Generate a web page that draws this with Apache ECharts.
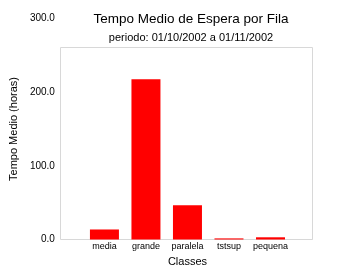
<!DOCTYPE html>
<html>
<head>
<meta charset="utf-8">
<script src="https://cdn.jsdelivr.net/npm/echarts@6/dist/echarts.min.js"></script>
<style>html,body{margin:0;padding:0;background:#fff;}#c{width:362px;height:280px;}</style>
</head>
<body>
<div id="c"></div>
<script>
const titleText = 'Tempo Medio de Espera por Fila';
const subtitleText = 'periodo: 01/10/2002 a 01/11/2002';
const categories = ['', 'media', 'grande', 'paralela', 'tstsup', 'pequena', ''];
const values = ['-', 13.6, 217.5, 46.5, 1.5, 3.0, '-'];
const yTicks = [0, 100, 200, 300];
const yName = 'Tempo Medio (horas)';
const xName = 'Classes';

const chart = echarts.init(document.getElementById('c'), null, {renderer: 'canvas'});
const font = 'Liberation Sans, Arial, sans-serif';
chart.setOption({
  animation: false,
  backgroundColor: '#fff',
  title: [
    {text: titleText, left: 186, top: 7, textAlign: 'center',
     textStyle: {fontFamily: font, fontSize: 13.5, fontWeight: 'normal', color: '#000'}},
    {text: subtitleText, left: 186, top: 27, textAlign: 'center',
     textStyle: {fontFamily: font, fontSize: 11, fontWeight: 'normal', color: '#000'}}
  ],
  grid: {left: 60, right: 50, top: 18.5, bottom: 40.5, containLabel: false},
  xAxis: {
    type: 'category', data: categories, boundaryGap: false,
    axisLine: {show: true, lineStyle: {color: '#d8d8d8'}},
    axisTick: {show: false},
    axisLabel: {fontFamily: font, fontSize: 9, color: '#000', margin: 3, interval: 0},
    name: xName, nameLocation: 'middle', nameGap: 13,
    nameTextStyle: {fontFamily: font, fontSize: 11, color: '#000'}
  },
  yAxis: {
    type: 'value', min: yTicks[0], max: yTicks[yTicks.length - 1], interval: 100,
    axisLine: {show: false}, axisTick: {show: false}, splitLine: {show: false},
    axisLabel: {fontFamily: font, fontSize: 10, color: '#000', margin: 8,
      formatter: v => v.toFixed(1)},
    name: yName, nameLocation: 'middle', nameGap: 42, nameRotate: 90,
    nameTextStyle: {fontFamily: font, fontSize: 11, color: '#000'}
  },
  graphic: [{
    type: 'rect', silent: true, z: 0,
    shape: {x: 60.5, y: 47.5, width: 252, height: 192},
    style: {fill: 'none', stroke: '#d8d8d8', lineWidth: 1}
  }],
  series: [{
    type: 'bar', data: values, barWidth: 29,
    itemStyle: {color: '#ff0000'}, z: 2
  }]
});
</script>
</body>
</html>
